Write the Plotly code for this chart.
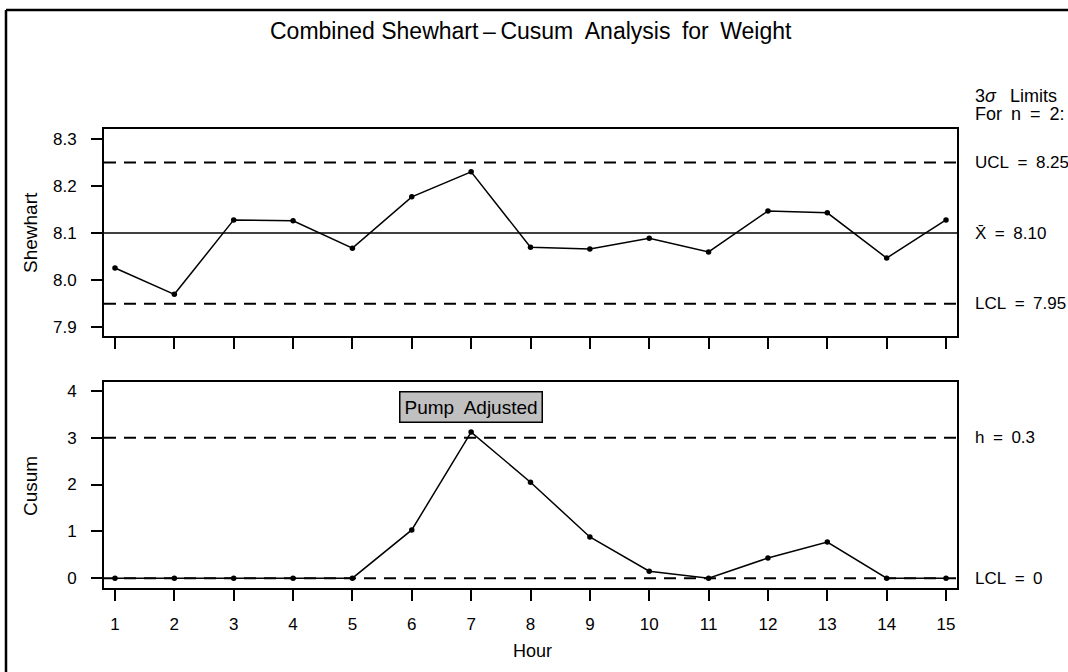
import plotly.graph_objects as go

hours = list(range(1, 16))
shewhart = [8.026, 7.970, 8.128, 8.126, 8.068, 8.177, 8.230, 8.070, 8.066, 8.089, 8.060, 8.147, 8.143, 8.047, 8.128]
cusum = [0, 0, 0, 0, 0, 1.03, 3.12, 2.05, 0.88, 0.15, 0, 0.43, 0.77, 0, 0]
ucl, center, lcl = 8.25, 8.10, 7.95
h_line, cusum_lcl = 3, 0

W, H = 1068, 672
FONT = "Liberation Sans, Arial, Helvetica, sans-serif"
EN = "\u2002"

def px(x):
    return x / W

def py(y):
    return 1 - y / H

fig = go.Figure()
fig.add_trace(go.Scatter(x=hours, y=shewhart, mode="lines+markers",
                         line=dict(color="black", width=1.5),
                         marker=dict(color="black", size=5.5),
                         xaxis="x", yaxis="y", showlegend=False))
fig.add_trace(go.Scatter(x=hours, y=cusum, mode="lines+markers",
                         line=dict(color="black", width=1.5),
                         marker=dict(color="black", size=5.5),
                         xaxis="x2", yaxis="y2", showlegend=False))

dash = "12px,8px"
shapes = [
    dict(type="line", xref="x domain", yref="y", x0=0, x1=1, y0=ucl, y1=ucl, line=dict(color="black", width=2, dash=dash)),
    dict(type="line", xref="x domain", yref="y", x0=0, x1=1, y0=center, y1=center, line=dict(color="black", width=1.5)),
    dict(type="line", xref="x domain", yref="y", x0=0, x1=1, y0=lcl, y1=lcl, line=dict(color="black", width=2, dash=dash)),
    dict(type="line", xref="x2 domain", yref="y2", x0=0, x1=1, y0=h_line, y1=h_line, line=dict(color="black", width=2, dash=dash)),
    dict(type="line", xref="x2 domain", yref="y2", x0=0, x1=1, y0=cusum_lcl, y1=cusum_lcl, line=dict(color="black", width=2, dash=dash)),
    # outer frame (left and top edges)
    dict(type="line", xref="paper", yref="paper", x0=px(6), x1=px(6), y0=py(10), y1=-0.05, line=dict(color="black", width=2.5)),
    dict(type="line", xref="paper", yref="paper", x0=px(6), x1=1.05, y0=py(10), y1=py(10), line=dict(color="black", width=2.5)),
]

def txt(text, x, y, size, xref="paper", yref="paper", xanchor="center", **kw):
    return dict(text=text, xref=xref, yref=yref, x=x, y=y, xanchor=xanchor, yanchor="middle",
                showarrow=False, font=dict(size=size, family=FONT, color="black"), **kw)

annotations = [
    txt("Combined Shewhart\u2009\u2013\u2009Cusum" + EN + "Analysis" + EN + "for" + EN + "Weight", px(531), py(31), 23),
    txt("3<i>\u03c3</i>" + EN + " Limits", px(973), py(96), 18, xanchor="left"),
    txt("For" + EN + "n" + EN + "=" + EN + "2:", px(973), py(114), 18, xanchor="left"),
    txt("UCL" + EN + "=" + EN + "8.25", px(973), ucl, 17, yref="y", xanchor="left"),
    txt("X\u0304" + EN + "=" + EN + "8.10", px(973), center, 17, yref="y", xanchor="left"),
    txt("LCL" + EN + "=" + EN + "7.95", px(973), lcl, 17, yref="y", xanchor="left"),
    txt("h" + EN + "=" + EN + "0.3", px(973), h_line, 17, yref="y2", xanchor="left"),
    txt("LCL" + EN + "=" + EN + "0", px(973), cusum_lcl, 17, yref="y2", xanchor="left"),
    txt("Pump  Adjusted", 7, 3.66, 19, xref="x2", yref="y2",
        bgcolor="#c0c0c0", bordercolor="black", borderwidth=1.5, borderpad=4),
    txt("Shewhart", px(30), py(233), 19, textangle=-90),
    txt("Cusum", px(30), py(486), 19, textangle=-90),
    txt("Hour", px(532), py(651), 18),
]

axis_common = dict(showline=True, linecolor="black", linewidth=2, mirror=True,
                   ticks="outside", ticklen=11, tickwidth=1.5, tickcolor="black",
                   showgrid=False, zeroline=False,
                   tickfont=dict(size=17, family=FONT, color="black"))

xdom = [px(104), px(957)]
fig.update_layout(
    width=W, height=H, margin=dict(l=0, r=0, t=0, b=0),
    paper_bgcolor="white", plot_bgcolor="white",
    xaxis=dict(domain=xdom, anchor="y", range=[0.815, 15.185], tickvals=hours, showticklabels=False, **axis_common),
    yaxis=dict(domain=[py(336), py(129)], anchor="x", range=[7.8815, 8.321], ticklabelstandoff=11,
               tickvals=[7.9, 8.0, 8.1, 8.2, 8.3], ticktext=["7.9", "8.0", "8.1", "8.2", "8.3"], **axis_common),
    xaxis2=dict(domain=xdom, anchor="y2", range=[0.815, 15.185], tickvals=hours, ticklabelstandoff=9, **axis_common),
    yaxis2=dict(domain=[py(588), py(382)], anchor="x2", range=[-0.21, 4.19], ticklabelstandoff=11,
                tickvals=[0, 1, 2, 3, 4], **axis_common),
    shapes=shapes, annotations=annotations,
)

fig.write_html("out.html")
